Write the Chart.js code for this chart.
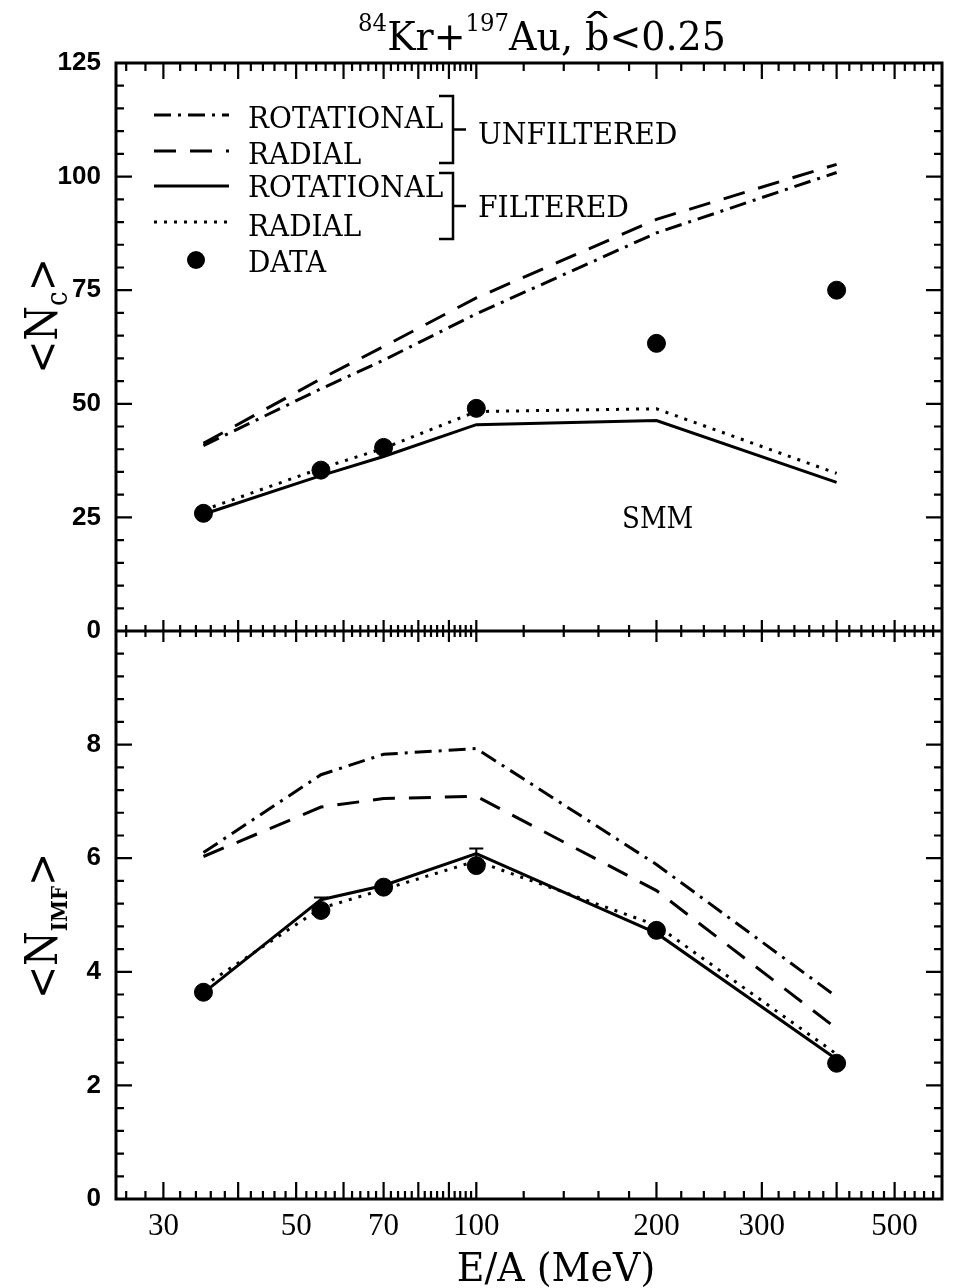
<!DOCTYPE html>
<html>
<head>
<meta charset="utf-8">
<title>Kr+Au multiplicities</title>
<script src="https://cdn.jsdelivr.net/npm/chart.js@4.4.1/dist/chart.umd.min.js"></script>
<style>
  html, body { margin: 0; padding: 0; background: #fff; }
  #wrap { width: 953px; height: 1288px; }
</style>
</head>
<body>
<div id="wrap"><canvas id="multChart" width="953" height="1288"></canvas></div>
<script>
// beam energy per nucleon (MeV)
const energies = [35, 55, 70, 100, 200, 400];
const energyTickLabels = [30, 50, 70, 100, 200, 300, 500];

// charged particle multiplicity <Nc>
const ncData      = [25.9, 35.4, 40.4, 49.0, 63.3, 75.0];
const ncRotUnfilt = [40.8, 53.3, 59.6, 69.8, 87.6, 100.9];
const ncRadUnfilt = [41.3, 55.5, 62.6, 73.3, 90.6, 102.7];
const ncRotFilt   = [25.7, 34.2, 38.4, 45.4, 46.3, 32.7];
const ncRadFilt   = [26.6, 35.8, 40.2, 48.3, 48.9, 34.7];
const ncTicks     = [0, 25, 50, 75, 100, 125];

// intermediate mass fragment multiplicity <N_IMF>
const imfData      = [3.64, 5.08, 5.49, 5.87, 4.73, 2.39];
const imfErrUp     = [0, 0.23, 0, 0.30, 0.08, 0];
const imfRotUnfilt = [6.10, 7.47, 7.83, 7.93, 5.89, 3.56];
const imfRadUnfilt = [6.03, 6.90, 7.05, 7.09, 5.43, 3.00];
const imfRotFilt   = [3.63, 5.27, 5.52, 6.08, 4.68, 2.46];
const imfRadFilt   = [3.75, 5.12, 5.45, 5.95, 4.82, 2.55];
const imfTicks     = [0, 2, 4, 6, 8];

const SERIF = '"DejaVu Serif", serif';
const SANS = '"Liberation Sans", Arial, sans-serif';

// line styles shared by the curves and the legend samples
const STYLE = {
  rotUnfilt: { dash: [17, 7, 3, 7], width: 3 },
  radUnfilt: { dash: [22, 14], width: 3 },
  rotFilt:   { dash: [], width: 3 },
  radFilt:   { dash: [3, 7], width: 3 }
};

// log axis ticks: every 2 below 100, every 20 above
const xTickValues = [];
for (let v = 26; v < 100; v += 2) xTickValues.push(v);
for (let v = 100; v < 600; v += 20) xTickValues.push(v);
const isMajorX = v => (v < 100 ? v % 10 === 0 : v % 100 === 0);

const pts = (ys) => energies.map((e, i) => ({ x: e, y: ys[i] }));

function curve(label, ys, axis, style) {
  return {
    label, data: pts(ys), yAxisID: axis,
    borderColor: '#000', borderWidth: style.width, borderDash: style.dash,
    borderCapStyle: 'butt', pointRadius: 0, fill: false, tension: 0
  };
}
function markers(label, ys, axis) {
  return {
    label, data: pts(ys), yAxisID: axis, showLine: false,
    pointRadius: 9, pointHoverRadius: 9, pointBackgroundColor: '#000',
    pointBorderColor: '#000', pointBorderWidth: 1
  };
}

// text made of runs of different size / offset (super- and subscripts)
function drawRuns(ctx, runs, x, y, opts) {
  ctx.save();
  ctx.translate(x, y);
  if (opts.rotate) ctx.rotate(opts.rotate);
  ctx.scale(opts.sx || 1, 1);
  ctx.fillStyle = '#000';
  ctx.textBaseline = 'alphabetic';
  ctx.textAlign = 'left';
  let total = 0;
  runs.forEach(r => {
    ctx.font = `${r.weight || 'normal'} ${r.size}px ${r.family || SERIF}`;
    r.w = ctx.measureText(r.t).width;
    total += r.w;
  });
  let cx = opts.align === 'center' ? -total / 2 : 0;
  runs.forEach(r => {
    ctx.font = `${r.weight || 'normal'} ${r.size}px ${r.family || SERIF}`;
    ctx.fillText(r.t, cx, r.dy || 0);
    if (r.hat) {
      ctx.save();
      ctx.translate(cx + r.w / 2, -r.size * 0.2);
      ctx.scale(1.8, 1);
      ctx.textAlign = 'center';
      ctx.fillText('\u02C6', 0, 0);
      ctx.restore();
    }
    cx += r.w;
  });
  ctx.restore();
}

function text(ctx, str, x, y, size, sx) {
  drawRuns(ctx, [{ t: str, size }], x, y, { sx });
}

function strokeSample(ctx, style, x0, x1, y) {
  ctx.save();
  ctx.lineWidth = style.width;
  ctx.setLineDash(style.dash);
  ctx.lineCap = 'butt';
  ctx.beginPath();
  ctx.moveTo(x0, y);
  ctx.lineTo(x1, y);
  ctx.stroke();
  ctx.restore();
}

function bracket(ctx, x, y0, y1) {
  ctx.save();
  ctx.lineWidth = 2.5;
  ctx.setLineDash([]);
  ctx.beginPath();
  ctx.moveTo(x - 14, y0); ctx.lineTo(x, y0); ctx.lineTo(x, y1); ctx.lineTo(x - 14, y1);
  const ym = (y0 + y1) / 2;
  ctx.moveTo(x, ym); ctx.lineTo(x + 13, ym);
  ctx.stroke();
  ctx.restore();
}

const framePlugin = {
  id: 'frame',
  afterDatasetsDraw(chart) {
    const ctx = chart.ctx;
    const xs = chart.scales.x, yt = chart.scales.yNc, yb = chart.scales.yImf;
    const { left, right, top, bottom } = chart.chartArea;
    const mid = yt.bottom;

    ctx.save();
    ctx.strokeStyle = '#000';
    ctx.fillStyle = '#000';

    // error bars on the IMF data
    ctx.lineWidth = 2;
    energies.forEach((e, i) => {
      if (!imfErrUp[i]) return;
      const px = xs.getPixelForValue(e);
      const p0 = yb.getPixelForValue(imfData[i]);
      const p1 = yb.getPixelForValue(imfData[i] + imfErrUp[i]);
      ctx.beginPath();
      ctx.moveTo(px, p0); ctx.lineTo(px, p1);
      ctx.moveTo(px - 7, p1); ctx.lineTo(px + 7, p1);
      ctx.stroke();
    });

    // frame and the shared middle axis
    ctx.lineWidth = 3;
    ctx.strokeRect(left, top, right - left, bottom - top);
    ctx.beginPath();
    ctx.moveTo(left, mid); ctx.lineTo(right, mid);
    ctx.stroke();

    // x ticks, top / middle / bottom
    ctx.lineWidth = 2.2;
    ctx.beginPath();
    xTickValues.forEach(v => {
      const px = xs.getPixelForValue(v);
      const maj = isMajorX(v);
      ctx.moveTo(px, top); ctx.lineTo(px, top + (maj ? 16 : 8));
      ctx.moveTo(px, mid - (maj ? 11 : 6)); ctx.lineTo(px, mid + (maj ? 11 : 6));
      ctx.moveTo(px, bottom); ctx.lineTo(px, bottom - (maj ? 17 : 8));
    });
    // y ticks, both sides
    for (let i = 1; i < 25; i++) {
      const py = yt.getPixelForValue(i * 5);
      const len = i % 5 === 0 ? 16 : 8;
      ctx.moveTo(left, py); ctx.lineTo(left + len, py);
      ctx.moveTo(right, py); ctx.lineTo(right - len, py);
    }
    for (let i = 1; i < 25; i++) {
      const py = yb.getPixelForValue(i * 0.4);
      const len = i % 5 === 0 ? 16 : 8;
      ctx.moveTo(left, py); ctx.lineTo(left + len, py);
      ctx.moveTo(right, py); ctx.lineTo(right - len, py);
    }
    ctx.stroke();

    // title
    drawRuns(ctx, [
      { t: '84', size: 24, dy: -19 },
      { t: 'Kr+', size: 40 },
      { t: '197', size: 24, dy: -19 },
      { t: 'Au, ', size: 40 },
      { t: 'b', size: 40, hat: true },
      { t: '<0.25', size: 40 }
    ], 542, 50, { align: 'center', sx: 0.95 });

    // axis titles
    drawRuns(ctx, [
      { t: '<N', size: 44 }, { t: 'c', size: 29, dy: 10 }, { t: '>', size: 44 }
    ], 57, 316, { align: 'center', rotate: -Math.PI / 2, sx: 0.9 });
    drawRuns(ctx, [
      { t: '<N', size: 44 }, { t: 'IMF', size: 22, dy: 10, weight: 'bold' }, { t: '>', size: 44 }
    ], 57, 926, { align: 'center', rotate: -Math.PI / 2, sx: 0.9 });
    drawRuns(ctx, [{ t: 'E/A (MeV)', size: 40 }], 556, 1281, { align: 'center', sx: 0.95 });

    text(ctx, 'SMM', 622, 528, 30, 0.87);

    // legend
    strokeSample(ctx, STYLE.rotUnfilt, 154, 229, 115);
    strokeSample(ctx, STYLE.radUnfilt, 154, 229, 151);
    strokeSample(ctx, STYLE.rotFilt, 154, 229, 186);
    strokeSample(ctx, STYLE.radFilt, 154, 229, 222);
    ctx.beginPath();
    ctx.arc(196, 260, 9, 0, Math.PI * 2);
    ctx.fill();
    text(ctx, 'ROTATIONAL', 248, 128, 30, 0.93);
    text(ctx, 'RADIAL', 248, 164, 30, 0.93);
    text(ctx, 'ROTATIONAL', 248, 197, 30, 0.93);
    text(ctx, 'RADIAL', 248, 236, 30, 0.93);
    text(ctx, 'DATA', 248, 272, 30, 0.93);
    bracket(ctx, 453, 96, 163);
    bracket(ctx, 453, 173, 239);
    text(ctx, 'UNFILTERED', 478, 144, 30, 0.94);
    text(ctx, 'FILTERED', 478, 217, 30, 0.94);

    ctx.restore();
  }
};

new Chart(document.getElementById('multChart').getContext('2d'), {
  type: 'line',
  data: {
    datasets: [
      markers('Nc data', ncData, 'yNc'),
      markers('IMF data', imfData, 'yImf'),
      curve('Nc rotational unfiltered', ncRotUnfilt, 'yNc', STYLE.rotUnfilt),
      curve('Nc radial unfiltered', ncRadUnfilt, 'yNc', STYLE.radUnfilt),
      curve('Nc rotational filtered', ncRotFilt, 'yNc', STYLE.rotFilt),
      curve('Nc radial filtered', ncRadFilt, 'yNc', STYLE.radFilt),
      curve('IMF rotational unfiltered', imfRotUnfilt, 'yImf', STYLE.rotUnfilt),
      curve('IMF radial unfiltered', imfRadUnfilt, 'yImf', STYLE.radUnfilt),
      curve('IMF rotational filtered', imfRotFilt, 'yImf', STYLE.rotFilt),
      curve('IMF radial filtered', imfRadFilt, 'yImf', STYLE.radFilt)
    ]
  },
  options: {
    responsive: false,
    animation: false,
    events: [],
    layout: { padding: { top: 63, right: 11, left: 0, bottom: 0 } },
    plugins: { legend: { display: false }, tooltip: { enabled: false } },
    scales: {
      x: {
        type: 'logarithmic', min: 25, max: 600, position: 'bottom',
        grid: { display: false, drawTicks: false }, border: { display: false },
        afterBuildTicks: s => { s.ticks = xTickValues.map(v => ({ value: v, major: isMajorX(v) })); },
        afterFit: s => { s.height = 89; },
        ticks: {
          autoSkip: false, maxRotation: 0, minRotation: 0, padding: 9, color: '#000',
          font: { family: '"Liberation Serif", serif', size: 31 },
          callback: v => (energyTickLabels.includes(v) ? String(v) : '')
        }
      },
      yNc: {
        type: 'linear', position: 'left', stack: 'panels', stackWeight: 1, weight: 2,
        min: 0, max: 125,
        grid: { display: false, drawTicks: false }, border: { display: false },
        afterBuildTicks: s => { s.ticks = ncTicks.map(v => ({ value: v })); },
        afterFit: s => { s.width = 116; },
        ticks: { padding: 15, color: '#000', font: { family: SANS, size: 26, weight: 'bold' } }
      },
      yImf: {
        type: 'linear', position: 'left', stack: 'panels', stackWeight: 1, weight: 1,
        min: 0, max: 10,
        grid: { display: false, drawTicks: false }, border: { display: false },
        afterBuildTicks: s => { s.ticks = imfTicks.map(v => ({ value: v })); },
        afterFit: s => { s.width = 116; },
        ticks: { padding: 15, color: '#000', font: { family: SANS, size: 26, weight: 'bold' } }
      }
    }
  },
  plugins: [framePlugin]
});
</script>
</body>
</html>
